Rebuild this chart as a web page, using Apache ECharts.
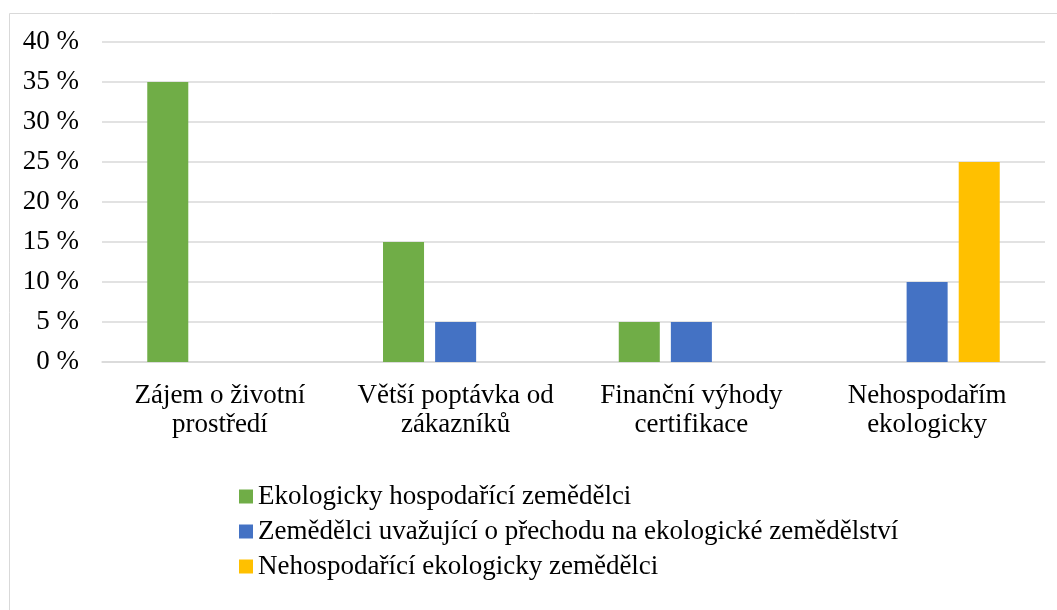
<!DOCTYPE html>
<html lang="cs">
<head>
<meta charset="utf-8">
<title>Motivace</title>
<script src="https://cdn.jsdelivr.net/npm/echarts@6/dist/echarts.min.js"></script>
<style>
  html, body { margin: 0; padding: 0; background: #fff; }
  #chart { width: 1057px; height: 610px; }
</style>
</head>
<body>
<div id="chart"></div>
<script>
// data
var categories = ['Zájem o životní\nprostředí', 'Větší poptávka od\nzákazníků', 'Finanční výhody\ncertifikace', 'Nehospodařím\nekologicky'];
var seriesNames = ['Ekologicky hospodařící zemědělci', 'Zemědělci uvažující o přechodu na ekologické zemědělství', 'Nehospodařící ekologicky zemědělci'];
var ekologicti = [35, 15, 5, 0];
var uvazujici = [0, 5, 5, 10];
var neekologicti = [0, 0, 0, 25];
var colors = ['#70AD47', '#4472C4', '#FFC000'];

var font = 'Liberation Serif, Times New Roman, serif';
var chart = echarts.init(document.getElementById('chart'));

var values = [ekologicti, uvazujici, neekologicti];
var series = values.map(function (d, i) {
    return {
        name: seriesNames[i],
        type: 'bar',
        data: d,
        barGap: '27%',
        barCategoryGap: '38.4%',
        itemStyle: { color: colors[i] }
    };
});

chart.setOption({
    animation: false,
    graphic: [{
        type: 'rect',
        shape: { x: 9.5, y: 13.5, width: 1100, height: 700 },
        style: { fill: 'none', stroke: '#d9d9d9', lineWidth: 1 },
        silent: true
    }],
    grid: { left: 102, right: 12, top: 42, bottom: 248 },
    legend: {
        orient: 'vertical',
        left: 234,
        top: 478,
        itemWidth: 14,
        itemHeight: 14,
        itemGap: 8,
        icon: 'rect',
        textStyle: { fontFamily: font, fontSize: 27, color: '#000', lineHeight: 27 }
    },
    xAxis: {
        type: 'category',
        data: categories,
        axisLine: { lineStyle: { color: '#d9d9d9', width: 1.5 } },
        axisTick: { show: false },
        axisLabel: { fontFamily: font, fontSize: 27, color: '#000', lineHeight: 29, margin: 19, interval: 0 }
    },
    yAxis: {
        type: 'value',
        min: 0,
        max: 40,
        interval: 5,
        axisLine: { show: false },
        axisTick: { show: false },
        splitLine: { lineStyle: { color: '#d9d9d9', width: 1.5 } },
        axisLabel: { fontFamily: font, fontSize: 27, color: '#000', margin: 23, formatter: '{value} %' }
    },
    series: series
});
</script>
</body>
</html>
